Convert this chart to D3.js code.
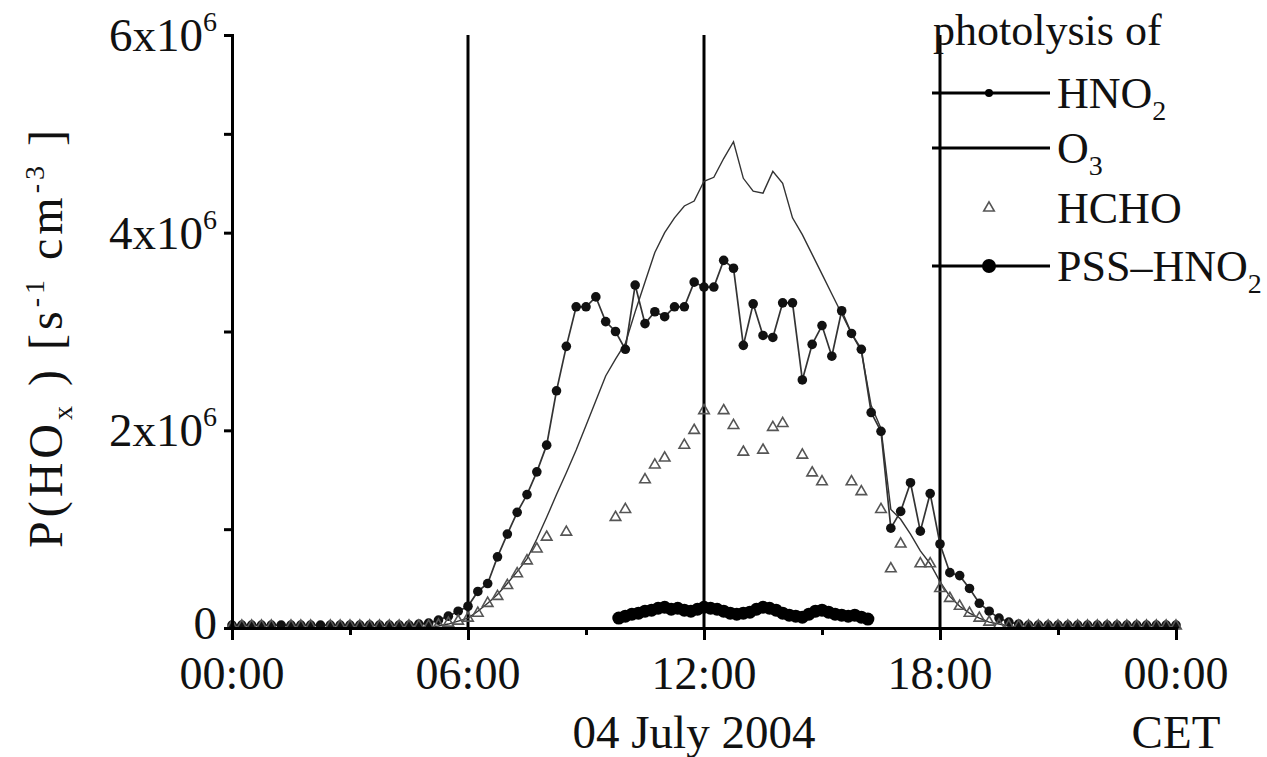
<!DOCTYPE html>
<html>
<head>
<meta charset="utf-8">
<script src="https://cdn.jsdelivr.net/npm/d3@7"></script>
<style>
  body { margin: 0; background: #fff; }
  text { font-family: "Liberation Serif", "Times New Roman", serif; fill: #111; }
</style>
</head>
<body>
<script>
// 15 minute grid, 00:00 .. 24:00 (hours)
var hours = d3.range(0, 24.001, 0.25);

// P(HOx) in 1e6 s-1 cm-3, one row per hour (:00 :15 :30 :45)
var hno2 = [
  .03, .03, .03, .03,
  .03, .03, .03, .03,
  .03, .03, .03, .03,
  .03, .03, .03, .03,
  .03, .03, .03, .04,
  .05, .08, .12, .17,
  .22, .37, .45, .72,
  .95, 1.17, 1.35, 1.58,
  1.85, 2.4, 2.85, 3.25,
  3.25, 3.35, 3.1, 3.0,
  2.82, 3.47, 3.08, 3.2,
  3.15, 3.25, 3.25, 3.5,
  3.45, 3.45, 3.72, 3.64,
  2.86, 3.28, 2.96, 2.94,
  3.29, 3.29, 2.51, 2.87,
  3.06, 2.75, 3.21, 2.98,
  2.82, 2.18, 1.99, 1.01,
  1.18, 1.47, 0.98, 1.36,
  .85, .56, .53, .40,
  .25, .17, .10, .06,
  .04, .03, .03, .03,
  .03, .03, .03, .03,
  .03, .03, .03, .03,
  .03, .03, .03, .03,
  .03
];

var o3 = [
  0, 0, 0, 0,
  0, 0, 0, 0,
  0, 0, 0, 0,
  0, 0, 0, 0,
  0, 0, 0, .005,
  .01, .02, .04, .07,
  .1, .17, .25, .34,
  .45, .57, .7, .9,
  1.12, 1.35, 1.57, 1.8,
  2.05, 2.3, 2.55, 2.72,
  2.88, 3.2, 3.5, 3.8,
  4.0, 4.15, 4.27, 4.32,
  4.52, 4.56, 4.75, 4.92,
  4.55, 4.42, 4.4, 4.62,
  4.5, 4.15, 3.98, 3.78,
  3.58, 3.38, 3.18, 2.98,
  2.8, 2.25, 2.02, 1.2,
  1.1, .95, .78, .65,
  .47, .32, .22, .15,
  .1, .06, .04, .02,
  .01, 0, 0, 0,
  0, 0, 0, 0,
  0, 0, 0, 0,
  0, 0, 0, 0,
  0
];

var hcho = [
  .02, .02, .02, .02,
  .02, null, .02, .02,
  .02, null, .02, .02,
  .02, .02, .02, .02,
  .02, .02, .02, .02,
  .02, .03, .05, .07,
  .1, .15, .25, .32,
  .43, .55, .68, .8,
  .92, null, .97, null,
  null, null, null, 1.12,
  1.2, null, 1.5, 1.65,
  1.72, null, 1.85, 2.0,
  2.2, null, 2.2, 2.05,
  1.78, null, 1.8, 2.03,
  2.07, null, 1.75, 1.57,
  1.48, null, null, 1.48,
  1.38, null, 1.2, .6,
  .85, null, .65, .65,
  .4, .3, .22, .15,
  .1, .06, .03, .02,
  .02, .02, .02, .02,
  .02, .02, .02, .02,
  .02, .02, .02, .02,
  .02, .02, .02, .02,
  .02
];

// PSS-HNO2, 10 minute steps from 09:50 to 16:10
var pssHours = d3.range(9 + 50 / 60, 16 + 10 / 60 + 0.001, 1 / 6);
var pss = [
  .1,
  .12, .14, .15, .17, .18, .2,
  .21, .19, .2, .18, .17, .19,
  .21, .2, .19, .17, .15, .14,
  .15, .16, .19, .21, .2, .18,
  .15, .13, .12, .11, .14, .17,
  .18, .16, .14, .13, .12, .13,
  .11, .09
];

var xMajor = [0, 6, 12, 18, 24];
var xMinor = [3, 9, 15, 21];
var xLabels = ["00:00", "06:00", "12:00", "18:00", "00:00"];
var yMajor = [0, 2, 4, 6];
var yMinor = [1, 3, 5];
var yLabels = ["0", "2x10", "4x10", "6x10"];
var legendNames = [["HNO", "2"], ["O", "3"], ["HCHO", ""], ["PSS\u2013HNO", "2"]];

var width = 1267, height = 757;
var svg = d3.select("body").append("svg")
    .attr("width", width)
    .attr("height", height);

var x = d3.scaleLinear().domain([0, 24]).range([232, 1176]);
var y = d3.scaleLinear().domain([0, 6]).range([628, 35]);

function series(vals, times) {
  return vals.map(function(v, i) { return {t: times[i], v: v}; });
}
var hno2Data = series(hno2, hours);
var o3Data = series(o3, hours);
var hchoData = series(hcho, hours).filter(function(d) { return d.v != null; });
var pssData = series(pss, pssHours);

var line = d3.line()
    .defined(function(d) { return d.v != null; })
    .x(function(d) { return x(d.t); })
    .y(function(d) { return y(d.v); });

// vertical markers at 06, 12, 18 h
svg.selectAll(".vline").data([6, 12, 18]).enter().append("line")
    .attr("x1", function(d) { return x(d); })
    .attr("x2", function(d) { return x(d); })
    .attr("y1", y(6)).attr("y2", y(0))
    .attr("stroke", "#000").attr("stroke-width", 3);

// O3 line
svg.append("path").datum(o3Data)
    .attr("d", line).attr("fill", "none")
    .attr("stroke", "#333").attr("stroke-width", 1.4);

// HNO2 line + dots
svg.append("path").datum(hno2Data)
    .attr("d", line).attr("fill", "none")
    .attr("stroke", "#333").attr("stroke-width", 1.7);
svg.selectAll(".hno2").data(hno2Data).enter().append("circle")
    .attr("cx", function(d) { return x(d.t); })
    .attr("cy", function(d) { return y(d.v); })
    .attr("r", 4.8).attr("fill", "#111");

// HCHO triangles
var tri = d3.symbol().type(d3.symbolTriangle).size(48);
svg.selectAll(".hcho").data(hchoData).enter().append("path")
    .attr("d", tri)
    .attr("transform", function(d) { return "translate(" + x(d.t) + "," + y(d.v) + ")"; })
    .attr("fill", "none").attr("stroke", "#555").attr("stroke-width", 1.6);

// PSS-HNO2
svg.append("path").datum(pssData)
    .attr("d", line).attr("fill", "none")
    .attr("stroke", "#000").attr("stroke-width", 2);
svg.selectAll(".pss").data(pssData).enter().append("circle")
    .attr("cx", function(d) { return x(d.t); })
    .attr("cy", function(d) { return y(d.v); })
    .attr("r", 6.5).attr("fill", "#000");

// axes
svg.append("g").attr("transform", "translate(" + x(0) + ",0)")
    .call(d3.axisLeft(y).tickValues(yMajor.concat(yMinor)).tickSize(8).tickFormat(""));
svg.append("g").attr("transform", "translate(0," + y(0) + ")")
    .call(d3.axisBottom(x).tickValues(xMajor).tickSize(12).tickFormat(""));
svg.append("g").attr("transform", "translate(0," + y(0) + ")")
    .call(d3.axisBottom(x).tickValues(xMinor).tickSize(7).tickFormat(""))
    .select(".domain").remove();
svg.selectAll(".domain").attr("stroke-width", 3).attr("stroke", "#000");
svg.selectAll(".tick line").attr("stroke-width", 3).attr("stroke", "#000");

// x tick labels
svg.selectAll(".xlab").data(xMajor).enter().append("text")
    .attr("x", function(d) { return x(d); })
    .attr("y", 689)
    .attr("text-anchor", "middle")
    .attr("font-size", 46)
    .text(function(d, i) { return xLabels[i]; });

svg.append("text").attr("x", 694).attr("y", 748)
    .attr("text-anchor", "middle").attr("font-size", 47).text("04 July 2004");
svg.append("text").attr("x", x(24)).attr("y", 748)
    .attr("text-anchor", "middle").attr("font-size", 47).text("CET");

// y tick labels
yMajor.forEach(function(v, i) {
  var t = svg.append("text")
      .attr("x", 217).attr("y", y(v) + (v === 0 ? 11 : 16))
      .attr("text-anchor", "end").attr("font-size", 47);
  t.append("tspan").text(yLabels[i]);
  if (v !== 0) {
    t.append("tspan").attr("dy", -20).attr("font-size", 28).text("6");
  }
});

// y axis title
var yt = svg.append("text")
    .attr("transform", "translate(62,337) rotate(-90)")
    .attr("text-anchor", "middle").attr("font-size", 48)
    .attr("letter-spacing", 4);
yt.append("tspan").text("P(HO");
yt.append("tspan").attr("dy", 10).attr("font-size", 28).text("x");
yt.append("tspan").attr("dy", -10).text(" ) [s");
yt.append("tspan").attr("dy", -18).attr("font-size", 28).text("-1");
yt.append("tspan").attr("dy", 18).text(" cm");
yt.append("tspan").attr("dy", -18).attr("font-size", 28).text("-3");
yt.append("tspan").attr("dy", 18).text(" ]");

// legend
svg.append("text").attr("x", 933).attr("y", 45)
    .attr("font-size", 44).text("photolysis of");

var legY = [93, 148, 208, 266];
var leg = svg.selectAll(".leg").data(legendNames).enter().append("g")
    .attr("transform", function(d, i) { return "translate(0," + legY[i] + ")"; });
leg.filter(function(d, i) { return i !== 2; }).append("line")
    .attr("x1", 932).attr("x2", 1050).attr("y1", 0).attr("y2", 0)
    .attr("stroke", "#000").attr("stroke-width", 3);
leg.filter(function(d, i) { return i === 0; }).append("circle")
    .attr("cx", 989).attr("cy", 0).attr("r", 4).attr("fill", "#000");
leg.filter(function(d, i) { return i === 2; }).append("path")
    .attr("d", tri).attr("transform", "translate(989,0)")
    .attr("fill", "none").attr("stroke", "#555").attr("stroke-width", 1.6);
leg.filter(function(d, i) { return i === 3; }).append("circle")
    .attr("cx", 989).attr("cy", 0).attr("r", 7).attr("fill", "#000");
var lt = leg.append("text").attr("x", 1057).attr("y", 15).attr("font-size", 44);
lt.append("tspan").text(function(d) { return d[0]; });
lt.append("tspan").attr("dy", 12).attr("font-size", 28).text(function(d) { return d[1]; });
</script>
</body>
</html>
